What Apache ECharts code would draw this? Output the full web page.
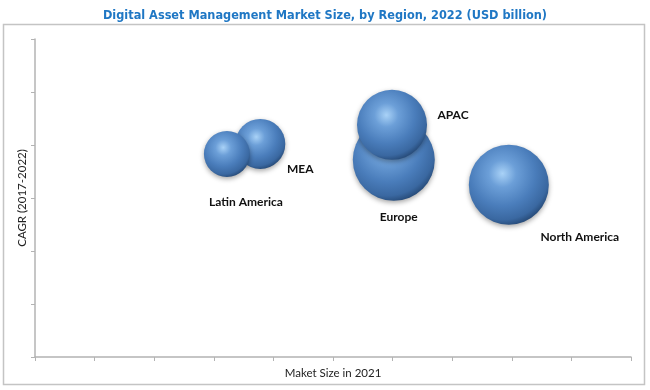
<!DOCTYPE html>
<html>
<head>
<meta charset="utf-8">
<script src="https://cdn.jsdelivr.net/npm/echarts@6/dist/echarts.min.js"></script>
<style>
html,body{margin:0;padding:0;background:#fff;}
#chart{width:650px;height:390px;}
</style>
</head>
<body>
<div id="chart"></div>
<script>
// ---- data (axes carry no tick labels) ----
var regions   = ['MEA', 'Latin America', 'Europe', 'APAC', 'North America'];
var marketSize = [3.78, 3.22, 6.02, 5.99, 7.95];   // x position (Maket Size in 2021)
var cagr       = [4.02, 3.83, 3.72, 4.38, 3.25];   // y position (CAGR 2017-2022)
var bubble     = [50, 46, 82, 70, 80];             // relative bubble size

var xTicks = [0, 10, 1];   // min, max, interval
var yTicks = [0, 6, 1];

// ---- label placement (style only) ----
var labelOffset = {
  'MEA': [40, 25],
  'Latin America': [19, 48],
  'Europe': [5, 57],
  'APAC': [61, -10],
  'North America': [71, 52]
};

var sphere = {
  type: 'radial', x: 0.42, y: 0.36, r: 0.68,
  colorStops: [
    {offset: 0, color: '#a9d2f7'},
    {offset: 0.25, color: '#6c9fd8'},
    {offset: 0.6, color: '#4a7dbb'},
    {offset: 0.85, color: '#3a68a1'},
    {offset: 1, color: '#22446f'}
  ]
};

var data = regions.map(function (n, i) {
  return {
    name: n,
    value: [marketSize[i], cagr[i], bubble[i]],
    label: {
      show: true, position: 'inside', formatter: n,
      offset: labelOffset[n],
      color: '#111', fontFamily: 'Lato', fontWeight: 'bold', fontSize: 12
    }
  };
});

var chart = echarts.init(document.getElementById('chart'), null, {renderer: 'canvas'});
var axisGray = '#b3b3b3';
chart.setOption({
  animation: false,
  backgroundColor: '#fff',
  title: {
    text: 'Digital Asset Management Market Size, by Region, 2022 (USD billion)',
    left: 'center', top: 4,
    textStyle: {color: '#1f77c4', fontFamily: "'DejaVu Sans Condensed', Roboto, sans-serif", fontWeight: 'bold', fontSize: 12.6}
  },
  graphic: [{
    type: 'rect', silent: true, z: -1,
    shape: {x: 3.5, y: 24.5, width: 641, height: 360},
    style: {fill: 'none', stroke: '#c4c4c4', lineWidth: 1.5}
  }],
  grid: {left: 35, right: 19, top: 39, bottom: 33},
  xAxis: {
    type: 'value', min: xTicks[0], max: xTicks[1], interval: xTicks[2],
    name: 'Maket Size in 2021', nameLocation: 'middle', nameGap: 10,
    nameTextStyle: {color: '#222', fontFamily: 'Lato', fontSize: 11.5},
    axisLine: {show: true, lineStyle: {color: axisGray, width: 1.5}},
    axisTick: {show: true, length: 4, lineStyle: {color: axisGray}},
    axisLabel: {show: false},
    splitLine: {show: false}
  },
  yAxis: {
    type: 'value', min: yTicks[0], max: yTicks[1], interval: yTicks[2],
    name: 'CAGR (2017-2022)', nameLocation: 'middle', nameGap: 7,
    nameTextStyle: {color: '#222', fontFamily: 'Lato', fontSize: 11.5},
    axisLine: {show: true, lineStyle: {color: axisGray, width: 1.5}},
    axisTick: {show: true, length: 4, lineStyle: {color: axisGray}},
    axisLabel: {show: false},
    splitLine: {show: false}
  },
  series: [{
    type: 'scatter',
    data: data,
    symbolSize: function (v) { return v[2]; },
    itemStyle: {
      color: sphere, opacity: 1,
      shadowColor: 'rgba(0,0,0,0.35)', shadowBlur: 5, shadowOffsetY: 2
    }
  }]
});
</script>
</body>
</html>
